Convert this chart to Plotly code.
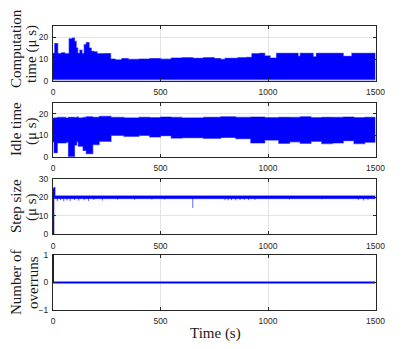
import plotly.graph_objects as go

W, H = 415, 349

# ─── data (envelopes of the dense signals) ───
comp_t = [0, 8, 22, 40, 55, 75, 90, 100, 108, 115, 125, 135, 145, 155, 168, 178, 190, 205, 240,
          268, 290, 320, 350, 400, 450, 500, 550, 600, 650, 700, 750, 780, 800, 860, 900, 925,
          960, 985, 1010, 1040, 1140, 1150, 1210, 1225, 1350, 1390, 1500]
comp_upper = [12.6, 17.0, 12.5, 12.8, 12.4, 19.2, 19.5, 18.0, 15.0, 12.6, 14.0, 12.5, 16.5, 17.5,
              15.0, 13.5, 13.3, 12.4, 12.5, 10.0, 9.6, 10.2, 9.8, 10.0, 10.2, 9.9, 10.4, 10.6,
              10.3, 10.6, 10.2, 9.8, 10.3, 10.6, 10.8, 12.4, 12.6, 11.4, 10.4, 12.6, 11.2, 12.6,
              11.0, 12.6, 11.2, 12.6, 12.6]
comp_lower = [0.8] * len(comp_t)
comp_floor = [0.2] * len(comp_t)

idle_t = [0, 5, 20, 60, 72, 100, 110, 118, 140, 155, 185, 215, 270, 330, 400, 450, 500, 550, 600,
          700, 780, 850, 920, 985, 1050, 1100, 1150, 1200, 1250, 1300, 1350, 1400, 1450, 1500]
idle_lower = [7.0, 2.0, 6.5, 6.8, 0.3, 5.5, 7.0, 5.0, 3.0, 1.5, 5.7, 7.2, 10.0, 9.5, 10.0, 9.2,
              9.8, 8.7, 8.9, 8.6, 9.0, 8.4, 6.5, 7.8, 6.3, 7.0, 6.3, 7.2, 6.2, 6.5, 7.5, 6.2,
              6.8, 6.8]
idle_upper = [17.8, 18.0, 18.2, 17.9, 18.3, 18.1, 18.4, 18.0, 18.2, 18.5, 18.3, 18.7, 18.2, 18.0,
              18.3, 18.1, 18.4, 18.2, 18.0, 18.3, 18.5, 18.2, 18.4, 18.1, 18.3, 18.2, 18.5, 18.1,
              18.3, 18.2, 18.4, 18.1, 18.3, 18.3]

step_t = [0, 5, 10, 1500]
step_lower = [0.0, 19.3, 19.3, 19.3]
step_upper = [25.0, 25.5, 20.9, 20.9]
spike_t = [20, 35, 50, 65, 80, 100, 120, 145, 165, 190, 230, 300, 380, 460, 520, 650, 800, 815,
           830, 850, 870, 890, 910, 940, 1100, 1250, 1420, 1445, 1465]
spike_min = [18.0, 18.5, 17.8, 18.4, 18.0, 18.6, 18.2, 18.5, 18.0, 18.6, 18.3, 18.8, 18.7, 18.8,
             18.9, 14.3, 18.6, 18.4, 18.5, 18.4, 18.5, 18.6, 18.5, 18.7, 18.9, 19.0, 18.5, 18.3,
             18.7]

over_t = [0, 0, 1500]
over_n = [1, 0, 0]

x_ticks = [0, 500, 1000, 1500]
y_titles = [("Computation", "time (μ s)"), ("Idle time", "(μ s)"),
            ("Step size", "(μ s)"), ("Number of", "overruns")]

BLUE = '#0000ff'
AX = '#262626'


def px(x):
    return x / W


def py(y):
    return 1 - y / H


fig = go.Figure()


def band(t, lo, hi, ax, color=BLUE, edge='rgba(0,0,255,0.55)'):
    fig.add_trace(go.Scatter(x=t, y=lo, mode='lines', line=dict(width=1.2, color=edge, shape='hv'),
                             xaxis='x' + ax, yaxis='y' + ax, showlegend=False, hoverinfo='skip'))
    fig.add_trace(go.Scatter(x=t, y=hi, mode='lines', line=dict(width=1.2, color=edge, shape='hv'),
                             fill='tonexty', fillcolor=color,
                             xaxis='x' + ax, yaxis='y' + ax, showlegend=False))


# panel 1 - computation time
band(comp_t, comp_floor, comp_lower, '', 'rgba(0,0,255,0.45)', 'rgba(0,0,0,0)')
band(comp_t, comp_lower, comp_upper, '')
# panel 2 - idle time
band(idle_t, idle_lower, idle_upper, '2')
# panel 3 - step size
band(step_t, step_lower, step_upper, '3', edge='rgba(0,0,255,0.3)')
sx, sy = [], []
for t, m in zip(spike_t, spike_min):
    sx += [t, t, None]
    sy += [20, m, None]
fig.add_trace(go.Scatter(x=sx, y=sy, mode='lines', line=dict(width=1, color='rgba(0,0,255,0.6)'),
                         xaxis='x3', yaxis='y3', showlegend=False))
# panel 4 - overruns
fig.add_trace(go.Scatter(x=over_t, y=over_n, mode='lines', line=dict(width=2, color=BLUE),
                         xaxis='x4', yaxis='y4', showlegend=False))

# axes
panels = [(26, 81, [0, 25], [0, 10, 20]),
          (102.7, 157, [0, 25], [0, 10, 20]),
          (179, 234.3, [0, 30], [0, 10, 20, 30]),
          (255, 310, [-1, 1], [-1, 0, 1])]
common = dict(showline=True, linecolor=AX, linewidth=1, mirror='ticks', ticks='inside',
              ticklen=3, tickcolor=AX, showgrid=True, gridcolor='#e4e4e4', gridwidth=1,
              zeroline=False, automargin=False,
              tickfont=dict(family='Liberation Sans, Arial', size=8.5, color=AX))
layout = {}
for i, (top, bot, yr, yt) in enumerate(panels):
    sfx = '' if i == 0 else str(i + 1)
    layout['xaxis' + sfx] = dict(common, domain=[px(53), px(375.5)], range=[0, 1500],
                                 tickvals=x_ticks, anchor='y' + sfx, ticklabelstandoff=3)
    layout['yaxis' + sfx] = dict(common, domain=[py(bot), py(top)], range=yr,
                                 tickvals=yt, anchor='x' + sfx, ticklabelstandoff=2)

ann = []
title_pos = [((16, 49), (31, 54)), ((16, 129), (31, 131)),
             ((16, 206), (31, 207)), ((16, 283), (33, 283))]
for (l1, l2), ((x1, y1), (x2, y2)) in zip(y_titles, title_pos):
    for txt, xx, yy in ((l1, x1, y1), (l2, x2, y2)):
        ann.append(dict(text=txt, x=px(xx), y=py(yy), xref='paper', yref='paper',
                        textangle=-90, showarrow=False, xanchor='center', yanchor='middle',
                        font=dict(family='Liberation Serif, Times New Roman', size=15, color='#1a1a1a')))
ann.append(dict(text='Time (s)', x=px(215), y=py(333), xref='paper', yref='paper',
                showarrow=False, xanchor='center', yanchor='middle',
                font=dict(family='Liberation Serif, Times New Roman', size=15, color='#1a1a1a')))

fig.update_layout(**layout)
fig.update_layout(width=W, height=H, margin=dict(l=0, r=0, t=0, b=0, autoexpand=False),
                  paper_bgcolor='white', plot_bgcolor='white', annotations=ann)
fig.write_html("out.html", config={'displayModeBar': False},
               post_script="document.body.style.margin='0';")
